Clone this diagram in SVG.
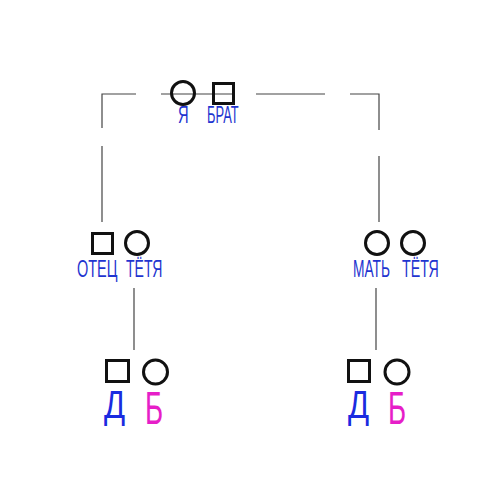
<svg xmlns="http://www.w3.org/2000/svg" width="500" height="500" viewBox="0 0 500 500">
<style>
.bg{fill:#fff}
.ln{stroke:#444;stroke-width:1.2;fill:none}
.sh{fill:none;stroke:#111;stroke-width:3}
.lb{font-family:"Liberation Sans",Arial,sans-serif;font-size:23px;fill:#1f35d0}
.big{font-family:"Liberation Sans",Arial,sans-serif}
.blue{fill:#1a2be0;font-size:39px}
.mag{fill:#e61ec8;font-size:46px}
</style>
<rect class="bg" x="0" y="0" width="500" height="500"/>
<g id="connectors">
<path class="ln" d="M102,128 V94 H136"/>
<path class="ln" d="M161,94 H233"/>
<path class="ln" d="M256,94 H325"/>
<path class="ln" d="M350,94 H379 V130"/>
<path class="ln" d="M102,146 V222"/>
<path class="ln" d="M379,156 V222"/>
<path class="ln" d="M134,288 V350"/>
<path class="ln" d="M376,288 V350"/>
</g>
<g id="node-ya">
<circle class="sh" cx="183" cy="93" r="11.5"/>
<text class="lb" transform="translate(178,123) scale(0.64,1)">Я</text>
</g>
<g id="node-brat">
<rect class="sh" x="213.5" y="83.5" width="20" height="20"/>
<text class="lb" transform="translate(207,123) scale(0.56,1)">БРАТ</text>
</g>
<g id="node-otets">
<rect class="sh" x="92.5" y="233.5" width="20" height="20"/>
<text class="lb" transform="translate(77,277) scale(0.63,1)">ОТЕЦ</text>
</g>
<g id="node-tetya1">
<circle class="sh" cx="137" cy="243" r="11.5"/>
<text class="lb" transform="translate(126,277) scale(0.61,1)">ТЁТЯ</text>
</g>
<g id="node-mat">
<circle class="sh" cx="377" cy="243" r="11.5"/>
<text class="lb" transform="translate(353,277) scale(0.6,1)">МАТЬ</text>
</g>
<g id="node-tetya2">
<circle class="sh" cx="413" cy="243" r="11.5"/>
<text class="lb" transform="translate(402,277) scale(0.62,1)">ТЁТЯ</text>
</g>
<g id="node-d1">
<rect class="sh" x="106.5" y="360.5" width="22" height="21"/>
<text class="big blue" transform="translate(104,418) scale(0.8,1)">Д</text>
</g>
<g id="node-b1">
<circle class="sh" cx="155.5" cy="372" r="12"/>
<text class="big mag" transform="translate(145,424) scale(0.6,1)">Б</text>
</g>
<g id="node-d2">
<rect class="sh" x="348.5" y="360.5" width="21" height="21"/>
<text class="big blue" transform="translate(348,418) scale(0.8,1)">Д</text>
</g>
<g id="node-b2">
<circle class="sh" cx="397" cy="372" r="12"/>
<text class="big mag" transform="translate(388,424) scale(0.6,1)">Б</text>
</g>
</svg>
